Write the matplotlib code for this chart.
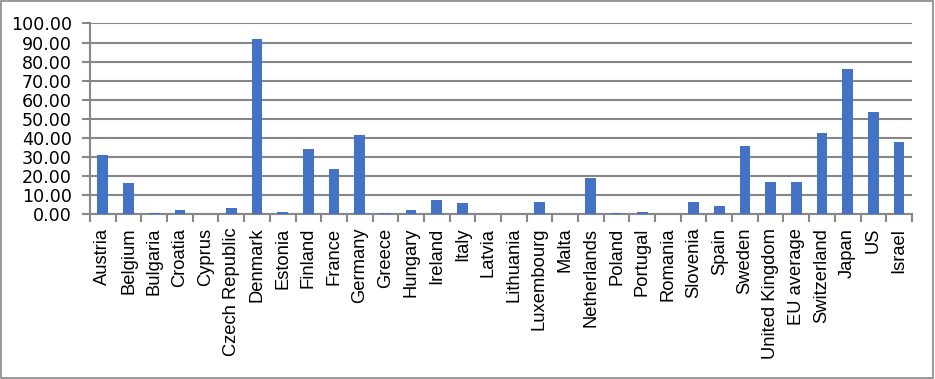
import numpy as np
import matplotlib.pyplot as plt
from matplotlib.patches import Rectangle
from matplotlib.ticker import FixedLocator, FormatStrFormatter

plt.rcParams.update({'font.size': 13.2, 'font.family': 'Liberation Sans'})

# data
countries = ["Austria", "Belgium", "Bulgaria", "Croatia", "Cyprus", "Czech Republic",
             "Denmark", "Estonia", "Finland", "France", "Germany", "Greece", "Hungary",
             "Ireland", "Italy", "Latvia", "Lithuania", "Luxembourg", "Malta",
             "Netherlands", "Poland", "Portugal", "Romania", "Slovenia", "Spain",
             "Sweden", "United Kingdom", "EU average", "Switzerland", "Japan", "US",
             "Israel"]
values = [30.9, 16.3, 0.7, 2.1, 0.0, 3.1,
          91.8, 1.0, 34.1, 23.6, 41.4, 0.7, 2.1,
          7.3, 5.8, 0.0, 0.0, 6.3, 0.0,
          18.9, 0.7, 1.0, 0.0, 6.3, 4.2,
          35.7, 16.8, 16.8, 42.5, 76.0, 53.5,
          37.8]

grey = "#878787"

fig = plt.figure(figsize=(9.35, 3.79), dpi=100)
ax = fig.add_axes([0.0963, 0.4354, 0.879, 0.5026])

x = np.arange(len(countries))
ax.bar(x, values, width=0.42, color="#4472C4", zorder=3)

ax.set_xlim(-0.5, len(countries) - 0.5)
ax.set_ylim(0, 100)
ax.set_yticks(np.arange(0, 101, 10))
ax.yaxis.set_major_formatter(FormatStrFormatter('%.2f'))
for lbl in ax.get_yticklabels():
    lbl.set_fontfamily('DejaVu Sans')
    lbl.set_fontsize(12.6)
ax.grid(axis='y', color=grey, linewidth=1.5, zorder=0)

ax.set_xticks(x)
ax.set_xticklabels(countries, rotation=90)
ax.xaxis.set_minor_locator(FixedLocator(np.arange(-0.5, len(countries), 1)))
ax.tick_params(axis='x', which='major', length=0, pad=10)
ax.tick_params(axis='x', which='minor', length=6, width=1.5, color=grey)
ax.tick_params(axis='y', length=6, width=1.5, color=grey, pad=7)

for s in ['top', 'right']:
    ax.spines[s].set_visible(False)
for s in ['left', 'bottom']:
    ax.spines[s].set_color(grey)
    ax.spines[s].set_linewidth(1.5)

# outer border
fig.patches.append(Rectangle((0.001, 0.003), 0.997, 0.994, transform=fig.transFigure,
                             fill=False, edgecolor=grey, linewidth=1.2))

plt.savefig("out.png", dpi=100)
